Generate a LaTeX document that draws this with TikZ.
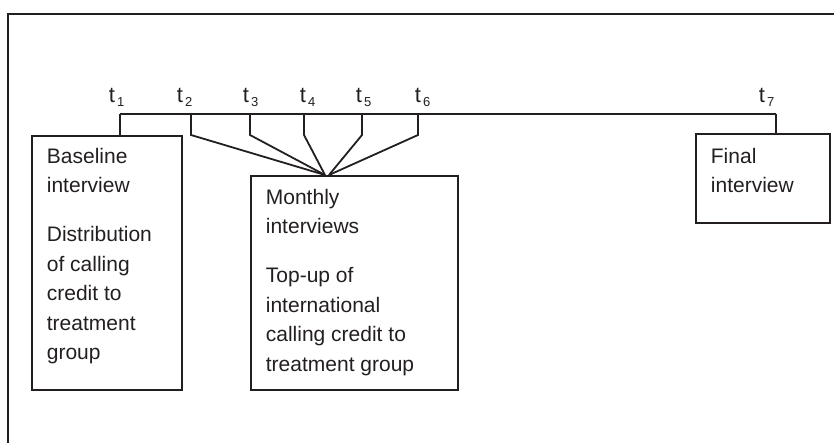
\documentclass[tikz,border=0pt]{standalone}
\usepackage{fontspec}
\setmainfont{Liberation Sans}
\definecolor{ink}{HTML}{231F20}
\begin{document}
\begin{tikzpicture}[x=1pt,y=-1pt,color=ink,line width=1.8pt,
  box/.style={draw=ink,line width=1.8pt,inner sep=0pt,anchor=north west},
  txt/.style={anchor=north west,inner sep=0pt,align=left,text=ink,font=\fontsize{21}{29.5}\selectfont},
  tlab/.style={anchor=base west,inner sep=0pt,text=ink,font=\fontsize{22}{22}\selectfont},
  link/.style={draw=ink,line width=1.8pt,line join=miter}]
\useasboundingbox (0,0) rectangle (834,443);
% outer frame (cropped)
\draw[line width=1.8pt] (8,443) -- (8,14) -- (834,14);
% boxes
\node[box,minimum width=150pt,minimum height=254pt] (base) at (31,135) {};
\node[box,minimum width=207pt,minimum height=214pt] (month) at (250,175) {};
\node[box,minimum width=134pt,minimum height=89pt] (final) at (695,133) {};
% box texts
\node[txt] (basetxt) at (46,147) {Baseline\\interview\\[19.5pt]Distribution\\of calling\\credit to\\treatment\\group};
\node[txt] (monthtxt) at (265,188) {Monthly\\interviews\\[19.5pt]Top-up of\\international\\calling credit to\\treatment group};
\node[txt] (finaltxt) at (710,147) {Final\\interview};
% time labels
\newcommand{\tlabel}[1]{t\kern2pt\raisebox{-4pt}{\fontsize{13}{13}\selectfont #1}}
\node[tlab] (l1) at (108,103) {\tlabel{1}};
\node[tlab] (l2) at (176,103) {\tlabel{2}};
\node[tlab] (l3) at (242,103) {\tlabel{3}};
\node[tlab] (l4) at (299,103) {\tlabel{4}};
\node[tlab] (l5) at (355,103) {\tlabel{5}};
\node[tlab] (l6) at (414,103) {\tlabel{6}};
\node[tlab] (l7) at (758,103) {\tlabel{7}};
% timeline points
\coordinate (p1) at (120,114);
\coordinate (p2) at (191,114);
\coordinate (p3) at (250,114);
\coordinate (p4) at (304,114);
\coordinate (p5) at (362,114);
\coordinate (p6) at (418,114);
\coordinate (p7) at (776,114);
\coordinate (c1) at ([xshift=75pt]month.north west);
\coordinate (c2) at ([xshift=79pt]month.north west);
% connectors
\draw[link] (p1) -- (p7);
\draw[link] (p1) -- (p1 |- base.north);
\draw[link] (p7) -- (p7 |- final.north);
\draw[link] (p2) -- ++(0,21) -- (c1);
\draw[link] (p3) -- ++(0,21) -- (c1);
\draw[link] (p4) -- ++(0,21) -- (c1);
\draw[link] (p5) -- ++(0,21) -- (c2);
\draw[link] (p6) -- ++(0,21) -- (c2);
\end{tikzpicture}
\end{document}
